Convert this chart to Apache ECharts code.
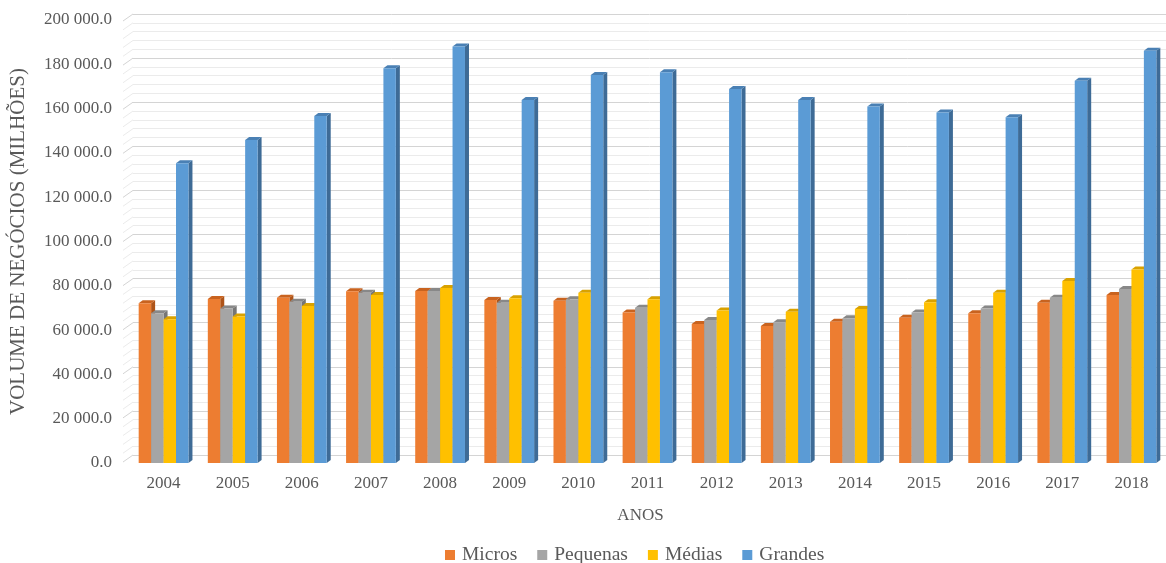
<!DOCTYPE html>
<html>
<head>
<meta charset="utf-8">
<title>Volume de negócios</title>
<script src="https://cdn.jsdelivr.net/npm/echarts@6/dist/echarts.min.js"></script>
<style>
  html, body { margin: 0; padding: 0; background: #ffffff; }
  #chart { width: 1166px; height: 563px; }
</style>
</head>
<body>
<div id="chart"></div>
<script>
// Anos e volume de negócios por dimensão de empresa (milhões)
const anos = ['2004', '2005', '2006', '2007', '2008', '2009', '2010', '2011', '2012', '2013', '2014', '2015', '2016', '2017', '2018'];
const micros   = [72100, 74000, 74600, 77500, 77600, 73600, 73300, 68000, 62800, 61900, 63800, 65600, 67600, 72400, 75800];
const pequenas = [67600, 69800, 72800, 76900, 77600, 72400, 73900, 70100, 64600, 63500, 65300, 67900, 69700, 74600, 78600];
const medias   = [64900, 66100, 70900, 75800, 79000, 74400, 76900, 73900, 68800, 68300, 69500, 72600, 76900, 82200, 87400];
const grandes  = [135300, 145800, 156700, 178200, 188000, 163900, 175200, 176400, 168800, 163900, 160900, 158200, 156100, 172600, 186100];
const seriesNames = ['Micros', 'Pequenas', 'Médias', 'Grandes'];

// Eixo de valores
const yMin = 0, yMax = 200000, yStep = 20000, yMinorSplit = 5;

const FONT = '"Liberation Serif", "Times New Roman", serif';
const TEXT = '#595959';

// Cores: face frontal, topo, lateral
const faces = [
  { front: '#ED7D31', top: '#C9631F', side: '#AE5419' },
  { front: '#A5A5A5', top: '#888888', side: '#767676' },
  { front: '#FFC000', top: '#D9A200', side: '#B98A00' },
  { front: '#5B9BD5', top: '#4A80B4', side: '#3E6B96' }
];

function fmtValue(v) {
  const parts = v.toFixed(1).split('.');
  const intPart = parts[0].replace(/\B(?=(\d{3})+(?!\d))/g, ' ');
  return intPart + '.' + parts[1];
}

// Colunas com falso relevo: face frontal + topo + lateral
const GROUP_RATIO = 0.72, DX = 4, DY = -3;
function barRenderer(si) {
  return function (params, api) {
    const cat = api.value(0), val = api.value(1);
    const top = api.coord([cat, val]);
    const base = api.coord([cat, 0]);
    const band = api.size([1, 0])[0];
    const group = band * GROUP_RATIO;
    const w = group / 4;
    const x0 = top[0] - group / 2 + si * w;
    const c = faces[si];
    return {
      type: 'group',
      children: [
        { type: 'polygon', shape: { points: [[x0 + w, top[1]], [x0 + w + DX, top[1] + DY], [x0 + w + DX, base[1] + DY], [x0 + w, base[1]]] },
          style: { fill: c.side } },
        { type: 'polygon', shape: { points: [[x0, top[1]], [x0 + w, top[1]], [x0 + w + DX, top[1] + DY], [x0 + DX, top[1] + DY]] },
          style: { fill: c.top } },
        { type: 'rect', shape: { x: x0, y: top[1], width: w, height: base[1] - top[1] },
          style: { fill: c.front } }
      ]
    };
  };
}

// Linhas da parede lateral, ligadas a cada divisão do eixo
const wallTicks = [];
for (let v = yMin; v <= yMax; v += yStep / yMinorSplit) wallTicks.push([0, v]);
function wallRenderer(params, api) {
  const v = api.value(1);
  const p = api.coord([0, v]);
  const x = params.coordSys.x;
  const major = v % yStep === 0;
  return {
    type: 'line',
    shape: { x1: x, y1: p[1], x2: x - 10, y2: p[1] + 7 },
    style: { stroke: major ? '#d4d4d4' : '#ebebeb', lineWidth: 1 }
  };
}

const chart = echarts.init(document.getElementById('chart'), null, { renderer: 'canvas' });

const seriesData = [micros, pequenas, medias, grandes];

const option = {
  animation: false,
  backgroundColor: '#ffffff',
  textStyle: { fontFamily: FONT },
  grid: [
    { left: 127, right: -5, top: 20, bottom: 100, containLabel: false },
    { left: 133, right: 0, top: 14, bottom: 108, containLabel: false }
  ],
  xAxis: [
    {
      type: 'category', gridIndex: 0, data: anos,
      axisLine: { show: false }, axisTick: { show: false },
      axisLabel: { color: TEXT, fontFamily: FONT, fontSize: 17, margin: 12 },
      name: 'ANOS', nameLocation: 'middle', nameGap: 44,
      nameTextStyle: { color: TEXT, fontFamily: FONT, fontSize: 17, padding: [0, 14, 0, 0] }
    },
    {
      type: 'category', gridIndex: 1, data: anos, show: false
    }
  ],
  yAxis: [
    {
      type: 'value', gridIndex: 0, min: yMin, max: yMax, interval: yStep,
      axisLine: { show: false }, axisTick: { show: false }, splitLine: { show: false },
      axisLabel: { color: TEXT, fontFamily: FONT, fontSize: 17, margin: 17, formatter: fmtValue },
      name: 'VOLUME DE NEGÓCIOS (MILHÕES)', nameLocation: 'middle', nameGap: 100,
      nameTextStyle: { color: TEXT, fontFamily: FONT, fontSize: 21 }
    },
    {
      type: 'value', gridIndex: 1, min: yMin, max: yMax, interval: yStep,
      axisLine: { show: false }, axisTick: { show: false }, axisLabel: { show: false },
      splitLine: { show: true, lineStyle: { color: '#d4d4d4', width: 1 } },
      minorTick: { show: false, splitNumber: yMinorSplit },
      minorSplitLine: { show: true, lineStyle: { color: '#ebebeb', width: 1 } }
    }
  ],
  legend: {
    left: 440, top: 540,
    icon: 'rect', itemWidth: 10, itemHeight: 10, itemGap: 20,
    textStyle: { color: TEXT, fontFamily: FONT, fontSize: 19.5, padding: [0, 0, 0, 2] },
    data: seriesNames
  },
  series: [
    {
      type: 'custom', name: 'parede', xAxisIndex: 1, yAxisIndex: 1,
      data: wallTicks, renderItem: wallRenderer, silent: true, z: 1
    }
  ].concat(seriesNames.map(function (name, si) {
    return {
      type: 'custom', name: name, xAxisIndex: 0, yAxisIndex: 0,
      itemStyle: { color: faces[si].front },
      data: seriesData[si].map(function (v, i) { return [i, v]; }),
      renderItem: barRenderer(si),
      encode: { x: 0, y: 1 },
      z: 2 + si
    };
  }))
};

chart.setOption(option);
</script>
</body>
</html>
